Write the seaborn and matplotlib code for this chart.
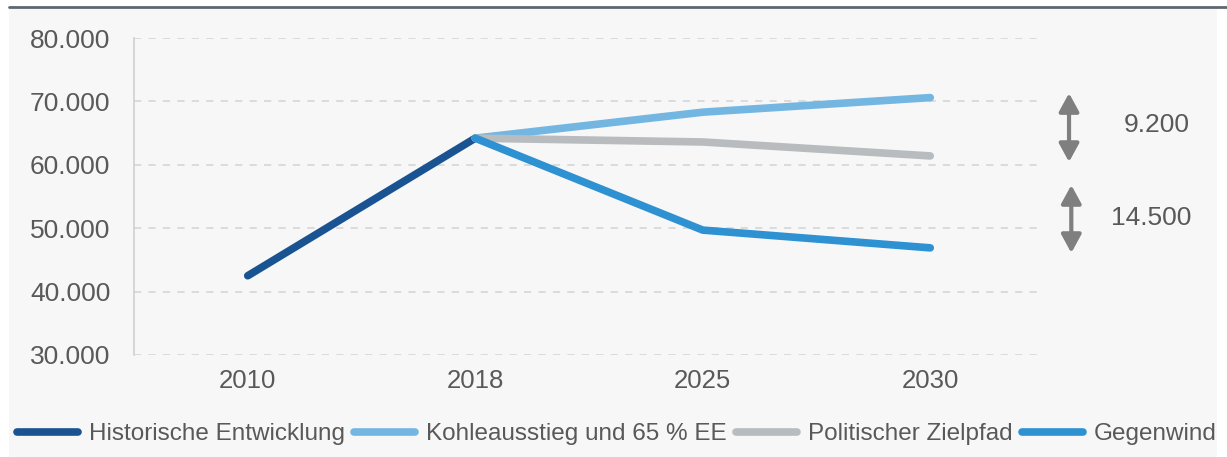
import pandas as pd
import matplotlib
matplotlib.use("Agg")
import matplotlib.pyplot as plt
import seaborn as sns
from matplotlib.patches import Rectangle
from matplotlib.lines import Line2D

# data
years = ["2010", "2018", "2025", "2030"]
historisch = [42500, 64200, None, None]
kohleausstieg = [None, 64200, 68300, 70600]
zielpfad = [None, 64200, 63600, 61400]
gegenwind = [None, 64200, 49700, 46900]
series_names = ["Historische Entwicklung", "Kohleausstieg und 65 % EE",
                "Politischer Zielpfad", "Gegenwind"]
gap_labels = ["9.200", "14.500"]

colors = ["#1a5392", "#74b6e2", "#b8bcbe", "#2e91d1"]
text_col = "#595959"

rows = []
for name, vals in zip(series_names, [historisch, kohleausstieg, zielpfad, gegenwind]):
    for yr, v in zip(years, vals):
        if v is not None:
            rows.append({"Jahr": yr, "Wert": v, "Szenario": name})
df = pd.DataFrame(rows)

sns.set_style("white")
plt.rcParams["font.family"] = ["Liberation Sans", "DejaVu Sans"]

fig = plt.figure(figsize=(12.27, 4.57), dpi=100)
fig.patches.append(Rectangle((9 / 1227, 0), 1208 / 1227, 450 / 457,
                             transform=fig.transFigure, facecolor="#f7f7f7",
                             edgecolor="none", zorder=-10))
fig.lines.append(Line2D([9 / 1227, 1], [450 / 457, 450 / 457],
                        transform=fig.transFigure, color="#5f6770", lw=2))

ax = fig.add_axes([134 / 1227, 1 - 355 / 457, 910 / 1227, 317 / 457])
ax.set_facecolor("none")

sns.lineplot(data=df, x="Jahr", y="Wert", hue="Szenario", hue_order=series_names,
             palette=colors, lw=5.5, solid_capstyle="round", sort=False,
             legend=False, ax=ax)

ax.set_xlim(-0.5, 3.5)
ax.set_ylim(30000, 80000)
ax.set_yticks(range(30000, 80001, 10000))
ax.set_yticklabels([f"{v // 1000}.000" for v in range(30000, 80001, 10000)],
                   fontsize=19, color=text_col)
ax.set_xticks(range(len(years)))
ax.set_xticklabels(years, fontsize=18.5, color=text_col)
ax.tick_params(axis="y", length=0, pad=17)
ax.tick_params(axis="x", length=0, pad=10)
ax.set_xlabel("")
ax.set_ylabel("")
ax.yaxis.grid(True, ls=(0, (4, 4)), color="#d9d9d9", lw=1.3)
ax.set_axisbelow(True)
for s in ["top", "right", "bottom"]:
    ax.spines[s].set_visible(False)
ax.spines["left"].set_color("#d0d0d0")
ax.spines["left"].set_linewidth(1.2)

# difference arrows
arrow_kw = dict(arrowstyle="<|-|>,head_length=0.55,head_width=0.3", color="#7f7f7f",
                lw=3, mutation_scale=20, shrinkA=0, shrinkB=0)
ax.annotate("", xy=(3.61, 71300), xytext=(3.61, 60450), xycoords="data",
            arrowprops=arrow_kw, annotation_clip=False)
ax.annotate("", xy=(3.62, 56800), xytext=(3.62, 46100), xycoords="data",
            arrowprops=arrow_kw, annotation_clip=False)
ax.text(1157 / 1227, 1 - 125 / 457, gap_labels[0], transform=fig.transFigure,
        ha="center", va="center", fontsize=19, color=text_col)
ax.text(1151 / 1227, 1 - 218 / 457, gap_labels[1], transform=fig.transFigure,
        ha="center", va="center", fontsize=19, color=text_col)

handles = [Line2D([], [], color=c, lw=5.5, solid_capstyle="round") for c in colors]
fig.legend(handles, series_names, loc="center", bbox_to_anchor=(617 / 1227, 1 - 434 / 457),
           ncol=4, frameon=False, fontsize=17.5, labelcolor=text_col,
           handlelength=2.5, handletextpad=0.45, columnspacing=0.4)

fig.savefig("out.png", dpi=100, facecolor="white")
